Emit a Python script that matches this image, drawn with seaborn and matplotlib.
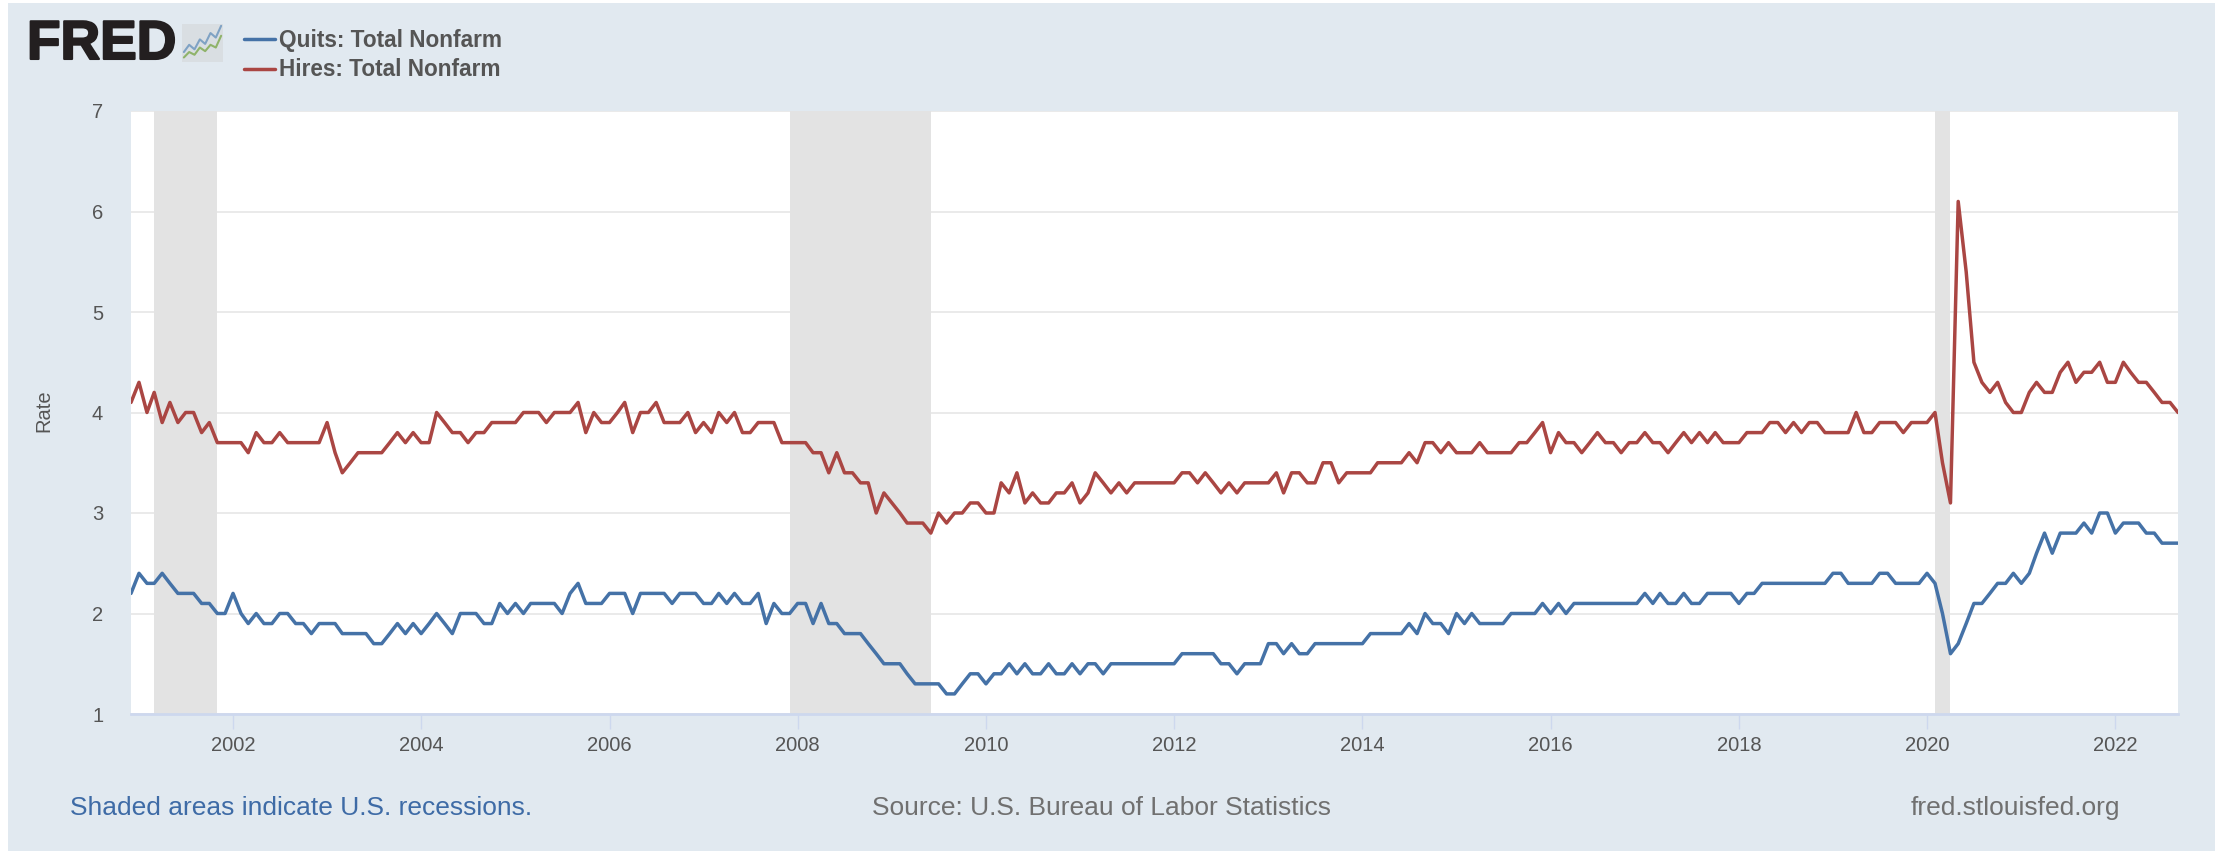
import pandas as pd
import seaborn as sns
import matplotlib.pyplot as plt
import matplotlib.dates as mdates
import matplotlib.patheffects as pe
from matplotlib.patches import Rectangle

# monthly rates, Dec 2000 - Sep 2022, one row per 12 months
hires = [
    4.1, 4.3, 4.0, 4.2, 3.9, 4.1, 3.9, 4.0, 4.0, 3.8, 3.9, 3.7,
    3.7, 3.7, 3.7, 3.6, 3.8, 3.7, 3.7, 3.8, 3.7, 3.7, 3.7, 3.7,
    3.7, 3.9, 3.6, 3.4, 3.5, 3.6, 3.6, 3.6, 3.6, 3.7, 3.8, 3.7,
    3.8, 3.7, 3.7, 4.0, 3.9, 3.8, 3.8, 3.7, 3.8, 3.8, 3.9, 3.9,
    3.9, 3.9, 4.0, 4.0, 4.0, 3.9, 4.0, 4.0, 4.0, 4.1, 3.8, 4.0,
    3.9, 3.9, 4.0, 4.1, 3.8, 4.0, 4.0, 4.1, 3.9, 3.9, 3.9, 4.0,
    3.8, 3.9, 3.8, 4.0, 3.9, 4.0, 3.8, 3.8, 3.9, 3.9, 3.9, 3.7,
    3.7, 3.7, 3.7, 3.6, 3.6, 3.4, 3.6, 3.4, 3.4, 3.3, 3.3, 3.0,
    3.2, 3.1, 3.0, 2.9, 2.9, 2.9, 2.8, 3.0, 2.9, 3.0, 3.0, 3.1,
    3.1, 3.0, 3.0, 3.3, 3.2, 3.4, 3.1, 3.2, 3.1, 3.1, 3.2, 3.2,
    3.3, 3.1, 3.2, 3.4, 3.3, 3.2, 3.3, 3.2, 3.3, 3.3, 3.3, 3.3,
    3.3, 3.3, 3.4, 3.4, 3.3, 3.4, 3.3, 3.2, 3.3, 3.2, 3.3, 3.3,
    3.3, 3.3, 3.4, 3.2, 3.4, 3.4, 3.3, 3.3, 3.5, 3.5, 3.3, 3.4,
    3.4, 3.4, 3.4, 3.5, 3.5, 3.5, 3.5, 3.6, 3.5, 3.7, 3.7, 3.6,
    3.7, 3.6, 3.6, 3.6, 3.7, 3.6, 3.6, 3.6, 3.6, 3.7, 3.7, 3.8,
    3.9, 3.6, 3.8, 3.7, 3.7, 3.6, 3.7, 3.8, 3.7, 3.7, 3.6, 3.7,
    3.7, 3.8, 3.7, 3.7, 3.6, 3.7, 3.8, 3.7, 3.8, 3.7, 3.8, 3.7,
    3.7, 3.7, 3.8, 3.8, 3.8, 3.9, 3.9, 3.8, 3.9, 3.8, 3.9, 3.9,
    3.8, 3.8, 3.8, 3.8, 4.0, 3.8, 3.8, 3.9, 3.9, 3.9, 3.8, 3.9,
    3.9, 3.9, 4.0, 3.5, 3.1, 6.1, 5.4, 4.5, 4.3, 4.2, 4.3, 4.1,
    4.0, 4.0, 4.2, 4.3, 4.2, 4.2, 4.4, 4.5, 4.3, 4.4, 4.4, 4.5,
    4.3, 4.3, 4.5, 4.4, 4.3, 4.3, 4.2, 4.1, 4.1, 4.0,
]
quits = [
    2.2, 2.4, 2.3, 2.3, 2.4, 2.3, 2.2, 2.2, 2.2, 2.1, 2.1, 2.0,
    2.0, 2.2, 2.0, 1.9, 2.0, 1.9, 1.9, 2.0, 2.0, 1.9, 1.9, 1.8,
    1.9, 1.9, 1.9, 1.8, 1.8, 1.8, 1.8, 1.7, 1.7, 1.8, 1.9, 1.8,
    1.9, 1.8, 1.9, 2.0, 1.9, 1.8, 2.0, 2.0, 2.0, 1.9, 1.9, 2.1,
    2.0, 2.1, 2.0, 2.1, 2.1, 2.1, 2.1, 2.0, 2.2, 2.3, 2.1, 2.1,
    2.1, 2.2, 2.2, 2.2, 2.0, 2.2, 2.2, 2.2, 2.2, 2.1, 2.2, 2.2,
    2.2, 2.1, 2.1, 2.2, 2.1, 2.2, 2.1, 2.1, 2.2, 1.9, 2.1, 2.0,
    2.0, 2.1, 2.1, 1.9, 2.1, 1.9, 1.9, 1.8, 1.8, 1.8, 1.7, 1.6,
    1.5, 1.5, 1.5, 1.4, 1.3, 1.3, 1.3, 1.3, 1.2, 1.2, 1.3, 1.4,
    1.4, 1.3, 1.4, 1.4, 1.5, 1.4, 1.5, 1.4, 1.4, 1.5, 1.4, 1.4,
    1.5, 1.4, 1.5, 1.5, 1.4, 1.5, 1.5, 1.5, 1.5, 1.5, 1.5, 1.5,
    1.5, 1.5, 1.6, 1.6, 1.6, 1.6, 1.6, 1.5, 1.5, 1.4, 1.5, 1.5,
    1.5, 1.7, 1.7, 1.6, 1.7, 1.6, 1.6, 1.7, 1.7, 1.7, 1.7, 1.7,
    1.7, 1.7, 1.8, 1.8, 1.8, 1.8, 1.8, 1.9, 1.8, 2.0, 1.9, 1.9,
    1.8, 2.0, 1.9, 2.0, 1.9, 1.9, 1.9, 1.9, 2.0, 2.0, 2.0, 2.0,
    2.1, 2.0, 2.1, 2.0, 2.1, 2.1, 2.1, 2.1, 2.1, 2.1, 2.1, 2.1,
    2.1, 2.2, 2.1, 2.2, 2.1, 2.1, 2.2, 2.1, 2.1, 2.2, 2.2, 2.2,
    2.2, 2.1, 2.2, 2.2, 2.3, 2.3, 2.3, 2.3, 2.3, 2.3, 2.3, 2.3,
    2.3, 2.4, 2.4, 2.3, 2.3, 2.3, 2.3, 2.4, 2.4, 2.3, 2.3, 2.3,
    2.3, 2.4, 2.3, 2.0, 1.6, 1.7, 1.9, 2.1, 2.1, 2.2, 2.3, 2.3,
    2.4, 2.3, 2.4, 2.6, 2.8, 2.6, 2.8, 2.8, 2.8, 2.9, 2.8, 3.0,
    3.0, 2.8, 2.9, 2.9, 2.9, 2.8, 2.8, 2.7, 2.7, 2.7,
]
recession_start = ["2001-03-01", "2007-12-01", "2020-02-01"]
recession_end = ["2001-11-01", "2009-06-01", "2020-04-01"]
tick_years = list(range(2002, 2023, 2))
y_ticks = [1, 2, 3, 4, 5, 6, 7]
# little green/blue squiggles of the logo
icon_blue = [1.1, 1.9, 1.4, 2.5, 2.0, 3.2, 2.7, 4.0]
icon_green = [0.5, 1.1, 0.8, 1.6, 1.2, 1.9, 1.6, 2.9]

QUITS = "Quits: Total Nonfarm"
HIRES = "Hires: Total Nonfarm"

dates = pd.date_range("2000-12-01", periods=len(hires), freq="MS")
df = pd.concat([
    pd.DataFrame({"date": dates, "rate": quits, "series": QUITS}),
    pd.DataFrame({"date": dates, "rate": hires, "series": HIRES}),
])

W, H = 2221, 851
BG = "#e1e9f0"

sns.set_theme(style="white")
plt.rcParams["font.family"] = ["Liberation Sans", "DejaVu Sans"]

fig = plt.figure(figsize=(W / 100, H / 100), dpi=100, facecolor="white")
fig.add_artist(Rectangle((8 / W, 0), (2215 - 8) / W, (851 - 3) / H,
                         transform=fig.transFigure, facecolor=BG, edgecolor="none", zorder=-5))

# plot area in pixels of the picture
left, right, top, bottom = 131, 2178, 111, 714
ax = fig.add_axes([left / W, 1 - bottom / H, (right - left) / W, (bottom - top) / H])
ax.set_facecolor("white")

for s, e in zip(recession_start, recession_end):
    ax.axvspan(pd.Timestamp(s), pd.Timestamp(e), color="#e3e3e3", lw=0, zorder=1.5)

sns.lineplot(data=df, x="date", y="rate", hue="series", ax=ax, linewidth=2.5, zorder=3,
             palette={QUITS: "#4572a7", HIRES: "#aa4643"})

ax.set_xlim(dates[0], dates[-1])
ax.set_ylim(1, 7)
ax.set_yticks(y_ticks)
ax.set_xticks([pd.Timestamp(f"{y}-01-01") for y in tick_years])
ax.xaxis.set_major_formatter(mdates.DateFormatter("%Y"))
ax.grid(axis="y", color="#e8e8e8", lw=1.3, zorder=1)
ax.set_axisbelow(True)
for side in ["left", "right", "top"]:
    ax.spines[side].set_visible(False)
ax.spines["bottom"].set_color("#cdd8ee")
ax.spines["bottom"].set_linewidth(2)
ax.tick_params(axis="x", length=11, width=1, color="#cdd8ee", labelsize=14.5,
               labelcolor="#555555", pad=5, bottom=True)
ax.tick_params(axis="y", length=0, labelsize=14.5, labelcolor="#555555", pad=20)
ax.set_xlabel("")
ax.set_ylabel("")


def put_text(x, y, s, **kw):
    # x, y in picture pixels
    return fig.text(x / W, 1 - y / H, s, va="center", **kw)


put_text(44, 411, "Rate", rotation=90, ha="center", fontsize=14.5, color="#555555")
put_text(70, 808, "Shaded areas indicate U.S. recessions.", ha="left", fontsize=19, color="#3e6ba6")
put_text(872, 808, "Source: U.S. Bureau of Labor Statistics", ha="left", fontsize=19, color="#707070")
put_text(2120, 808, "fred.stlouisfed.org", ha="right", fontsize=19, color="#707070")
logo = put_text(27, 45, "FRED", ha="left", fontsize=39.5, fontweight="bold", color="#231f20")
logo.set_path_effects([pe.withStroke(linewidth=1.5, foreground="#231f20")])

handles, labels = ax.get_legend_handles_labels()
leg = ax.legend(handles, labels, loc="upper left", frameon=False,
                bbox_to_anchor=(224 / W, 1 - 9 / H), bbox_transform=fig.transFigure,
                prop={"size": 16.3, "weight": "bold"}, labelcolor="#555555",
                handlelength=1.35, handletextpad=0.2, labelspacing=0.27)

# small logo icon
icon = fig.add_axes([182 / W, 1 - 62 / H, 41 / W, 38 / H], facecolor="#d9dee2")
sns.lineplot(x=range(len(icon_blue)), y=icon_blue, ax=icon, color="#7fa2c4", lw=1.5)
sns.lineplot(x=range(len(icon_green)), y=icon_green, ax=icon, color="#8fb36a", lw=1.5)
icon.set_ylim(0, 4.2)
icon.set_xticks([])
icon.set_yticks([])
icon.set_xlabel("")
icon.set_ylabel("")
for side in icon.spines:
    icon.spines[side].set_visible(False)

fig.savefig("out.png", dpi=100, facecolor="white")
